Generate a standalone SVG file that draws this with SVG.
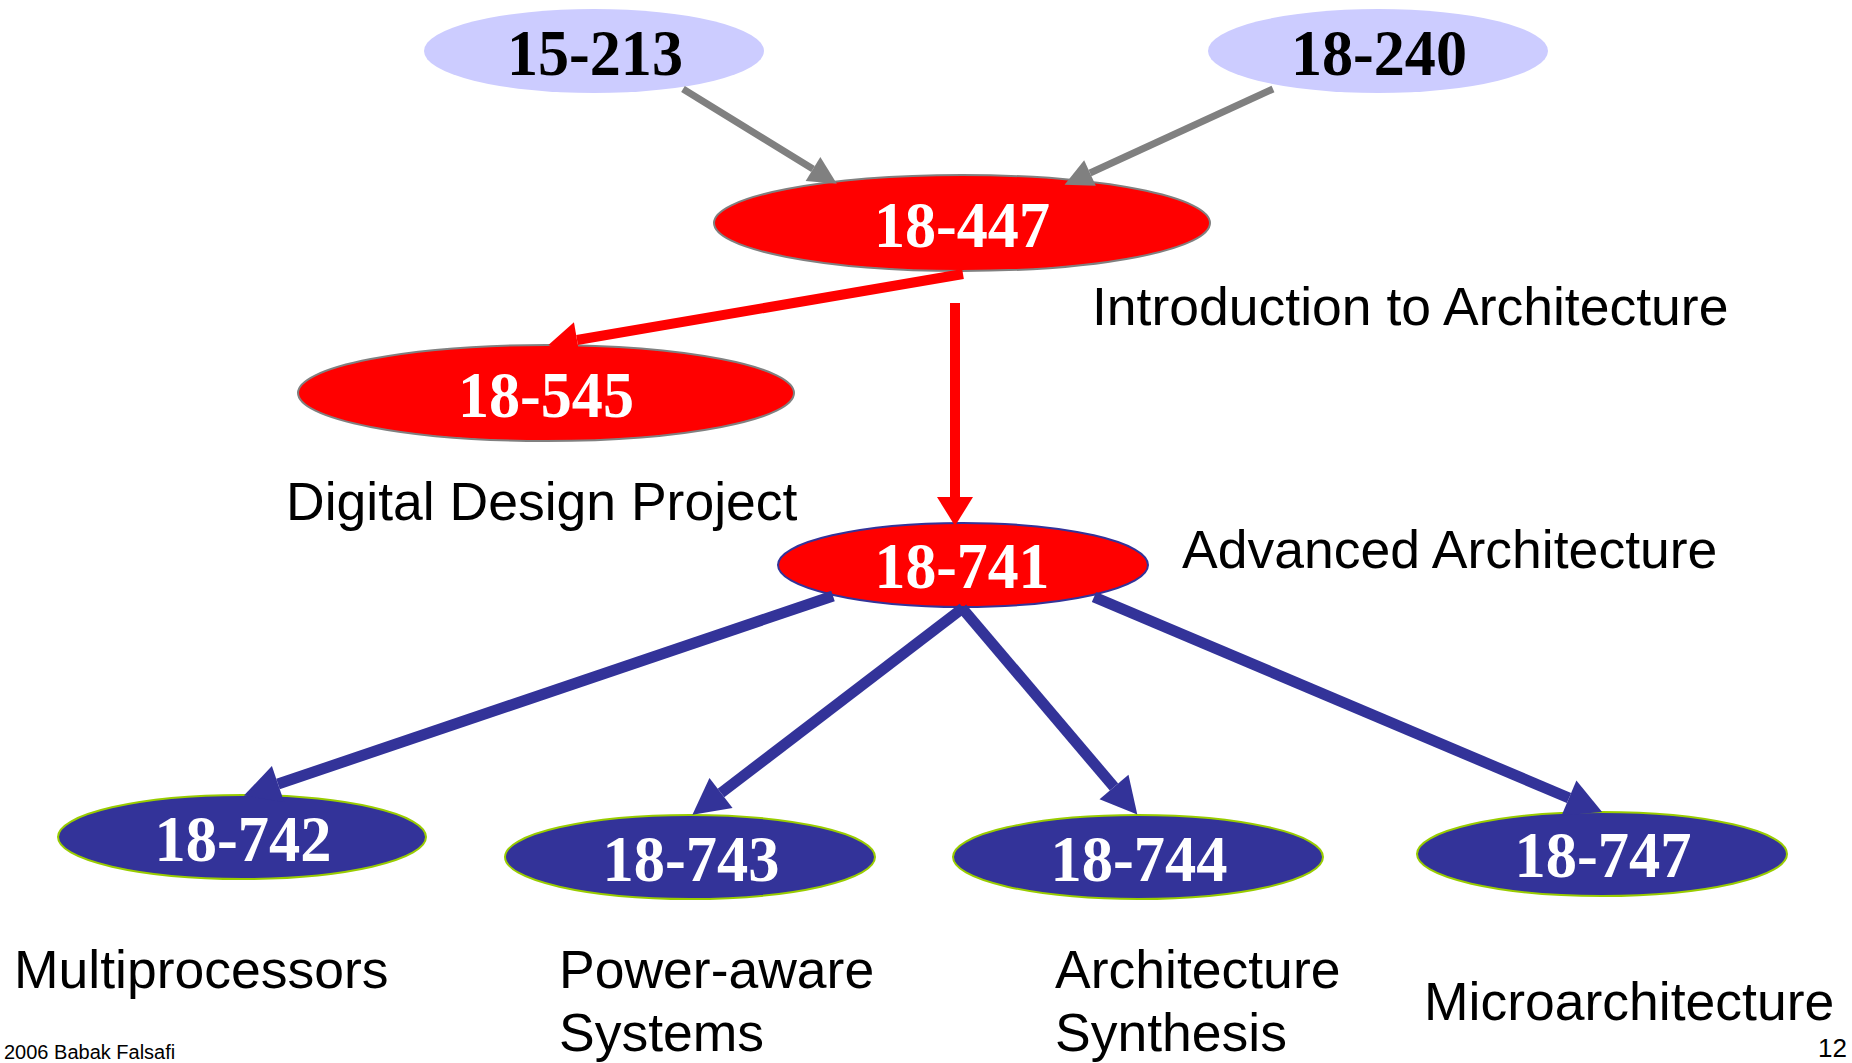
<svg xmlns="http://www.w3.org/2000/svg" width="1852" height="1063" viewBox="0 0 1852 1063">
<style>
.code{font-family:"Liberation Serif","Times New Roman",serif;font-weight:bold;font-size:66px;text-anchor:middle}
.dark{fill:#000}
.light{fill:#fff}
.lbl{font-family:"Liberation Sans",Arial,sans-serif;font-size:53.5px;fill:#000}
.pre{fill:#ccccff;stroke:none}
.core{fill:#ff0000;stroke:#808080;stroke-width:2}
.adv{fill:#ff0000;stroke:#333399;stroke-width:2}
.sub{fill:#333399;stroke:#99cc00;stroke-width:2}
.gray{stroke:#808080;stroke-width:7;fill:none;marker-end:url(#ah-gray)}
.red{stroke:#ff0000;stroke-width:10;fill:none;marker-end:url(#ah-red)}
.blue{stroke:#333399;stroke-width:11;fill:none;marker-end:url(#ah-blue)}
</style>
<defs>
<marker id="ah-gray" markerUnits="userSpaceOnUse" markerWidth="30" markerHeight="28" refX="0" refY="14" orient="auto" overflow="visible"><path d="M0,0 L28,14 L0,28 z" fill="#808080"/></marker>
<marker id="ah-red" markerUnits="userSpaceOnUse" markerWidth="32" markerHeight="36" refX="0" refY="18" orient="auto" overflow="visible"><path d="M0,0 L29,18 L0,36 z" fill="#ff0000"/></marker>
<marker id="ah-blue" markerUnits="userSpaceOnUse" markerWidth="38" markerHeight="38" refX="0" refY="19" orient="auto" overflow="visible"><path d="M0,0 L36,19 L0,38 z" fill="#333399"/></marker>
</defs>
<rect width="1852" height="1063" fill="#fff"/>
<g id="n15-213"><ellipse class="pre" cx="594" cy="51" rx="170" ry="42"/><text class="code dark" x="595" y="75" textLength="176" lengthAdjust="spacingAndGlyphs">15-213</text></g>
<g id="n18-240"><ellipse class="pre" cx="1378" cy="51" rx="170" ry="42"/><text class="code dark" x="1379" y="75" textLength="176" lengthAdjust="spacingAndGlyphs">18-240</text></g>
<g id="n18-447"><ellipse class="core" cx="962" cy="223" rx="248" ry="48"/><text class="code light" x="962" y="247" textLength="176" lengthAdjust="spacingAndGlyphs">18-447</text></g>
<g id="n18-545"><ellipse class="core" cx="546" cy="393" rx="248" ry="48"/><text class="code light" x="546" y="417" textLength="176" lengthAdjust="spacingAndGlyphs">18-545</text></g>
<g id="n18-741"><ellipse class="adv" cx="963" cy="565" rx="185" ry="42"/><text class="code light" x="962" y="588" textLength="175" lengthAdjust="spacingAndGlyphs">18-741</text></g>
<g id="n18-742"><ellipse class="sub" cx="242" cy="837" rx="184" ry="42"/><text class="code light" x="243" y="861" textLength="177" lengthAdjust="spacingAndGlyphs">18-742</text></g>
<g id="n18-743"><ellipse class="sub" cx="690" cy="857" rx="185" ry="42"/><text class="code light" x="691" y="881" textLength="177" lengthAdjust="spacingAndGlyphs">18-743</text></g>
<g id="n18-744"><ellipse class="sub" cx="1138" cy="857" rx="185" ry="42"/><text class="code light" x="1139" y="881" textLength="177" lengthAdjust="spacingAndGlyphs">18-744</text></g>
<g id="n18-747"><ellipse class="sub" cx="1602" cy="854" rx="185" ry="42"/><text class="code light" x="1603" y="877" textLength="177" lengthAdjust="spacingAndGlyphs">18-747</text></g>
<g id="connectors">
<path class="gray" d="M683,89 L813,169"/>
<path class="gray" d="M1273,89 L1090,173"/>
<path class="red" d="M963,274 L577,340"/>
<path class="red" d="M955,303 L955,497"/>
<path class="blue" d="M833,596 L278,784"/>
<path class="blue" d="M963,608 L721,793"/>
<path class="blue" d="M962,608 L1114,787"/>
<path class="blue" d="M1094,597 L1569,798"/>
</g>
<g id="labels">
<text class="lbl" x="1092" y="325">Introduction to Architecture</text>
<text class="lbl" x="286" y="520">Digital Design Project</text>
<text class="lbl" x="1182" y="568">Advanced Architecture</text>
<text class="lbl" x="14" y="988">Multiprocessors</text>
<text class="lbl" x="559" y="988">Power-aware</text>
<text class="lbl" x="559" y="1051">Systems</text>
<text class="lbl" x="1055" y="988">Architecture</text>
<text class="lbl" x="1055" y="1051">Synthesis</text>
<text class="lbl" x="1424" y="1020">Microarchitecture</text>
<text x="4" y="1059" font-family="Liberation Sans, Arial, sans-serif" font-size="20" fill="#000">2006 Babak Falsafi</text>
<text x="1818" y="1057" font-family="Liberation Sans, Arial, sans-serif" font-size="26" fill="#000">12</text>
</g>
</svg>
